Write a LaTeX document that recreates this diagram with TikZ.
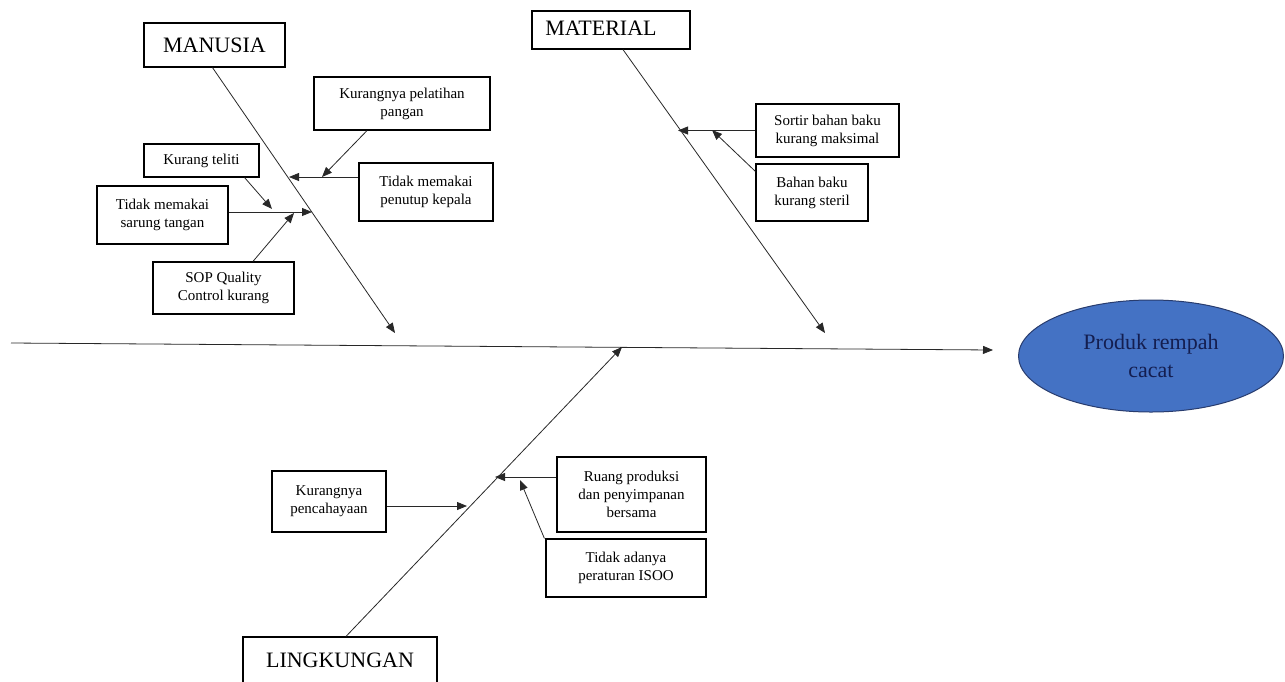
\documentclass[tikz,border=0pt]{standalone}
\usepackage{fontspec}
\setmainfont{Liberation Serif}
\usetikzlibrary{arrows.meta,shapes.geometric,calc}
\definecolor{efill}{RGB}{68,114,196}
\definecolor{eline}{RGB}{40,60,110}
\definecolor{etext}{RGB}{20,30,80}
\definecolor{bone}{RGB}{40,40,40}
\begin{document}
\begin{tikzpicture}[x=1pt,y=-1pt,
  cause/.style={draw=black,line width=1.2pt,rectangle,inner sep=0pt,align=center,
    font=\fontsize{15}{18}\selectfont},
  cat/.style={draw=black,line width=1.2pt,rectangle,inner sep=0pt,align=center,
    font=\fontsize{22}{26}\selectfont},
  arr/.style={draw=bone,line width=0.8pt,-{Triangle[length=10pt,width=8pt]}}
]
\useasboundingbox (0,0) rectangle (1285,681);
\fill[white] (0,0) rectangle (1285,681);

% category boxes
\node[cat,minimum width=141pt,minimum height=44pt] (man) at (214.5,45) {MANUSIA};
\node[cat,minimum width=158pt,minimum height=38pt] (mat) at (611,30) {\hspace*{-20pt}\raisebox{4pt}{MATERIAL}};
\node[cat,minimum width=194pt,minimum height=46pt] (lin) at (340,660) {LINGKUNGAN};

% effect
\node[ellipse,draw=eline,line width=1pt,fill=efill,minimum width=265pt,minimum height=112pt,
  align=center,text=etext,font=\fontsize{22}{28}\selectfont] (eff) at (1151,356) {Produk rempah\\cacat};

% cause boxes
\node[cause,minimum width=176pt,minimum height=53pt] (kpp) at (402,103.5) {Kurangnya pelatihan\\pangan};
\node[cause,minimum width=134pt,minimum height=58pt] (tmpk) at (426,192) {Tidak memakai\\penutup kepala};
\node[cause,minimum width=115pt,minimum height=33pt] (kt) at (201.5,160.5) {Kurang teliti};
\node[cause,minimum width=131pt,minimum height=58pt] (tmst) at (162.5,215) {Tidak memakai\\sarung tangan};
\node[cause,minimum width=141pt,minimum height=52pt] (sop) at (223.5,288) {SOP Quality\\Control kurang};
\node[cause,minimum width=143pt,minimum height=53pt] (sbb) at (827.5,130.5) {Sortir bahan baku\\kurang maksimal};
\node[cause,minimum width=112pt,minimum height=57pt] (bbks) at (812,192.5) {Bahan baku\\kurang steril};
\node[cause,minimum width=114pt,minimum height=61pt] (kp) at (329,501.5) {Kurangnya\\pencahayaan};
\node[cause,minimum width=149pt,minimum height=75pt] (rpp) at (631.5,494.5) {Ruang produksi\\dan penyimpanan\\bersama};
\node[cause,minimum width=160pt,minimum height=58pt] (tap) at (626,568) {Tidak adanya\\peraturan ISOO};

% coordinates
\coordinate (s0) at (11,343);
\coordinate (s1) at (993,350);
\coordinate (mtip) at (395,333);
\coordinate (ttip) at (825,333);
\coordinate (ltip) at (622,347);
\coordinate (c1) at (322,177);
\coordinate (c2) at (289,177);
\coordinate (c3) at (272,209);
\coordinate (c4) at (312,212);
\coordinate (c5) at (294,213);
\coordinate (c6) at (678,130.5);
\coordinate (c7) at (712,130);
\coordinate (c8) at (467,506);
\coordinate (c9) at (495,477);
\coordinate (c10) at (520,480);

% spine and bones
\draw[arr] (s0) -- (s1);
\draw[arr] ([xshift=-2pt]man.south) -- (mtip);
\draw[arr] ([xshift=12pt]mat.south) -- (ttip);
\draw[arr] ([xshift=6pt]lin.north) -- (ltip);

% sub-causes
\draw[arr] ([xshift=-35pt]kpp.south) -- (c1);
\draw[arr] (c2 -| tmpk.west) -- (c2);
\draw[arr] ($(kt.south east)+(-15,0)$) -- (c3);
\draw[arr] (c4 -| tmst.east) -- (c4);
\draw[arr] ([xshift=29.5pt]sop.north) -- (c5);
\draw[arr] (sbb.west) -- (c6);
\draw[arr] ($(bbks.north west)+(0,8)$) -- (c7);
\draw[arr] (c8 -| kp.east) -- (c8);
\draw[arr] (c9 -| rpp.west) -- (c9);
\draw[arr] ($(tap.north west)+(-1,0)$) -- (c10);
\end{tikzpicture}
\end{document}
